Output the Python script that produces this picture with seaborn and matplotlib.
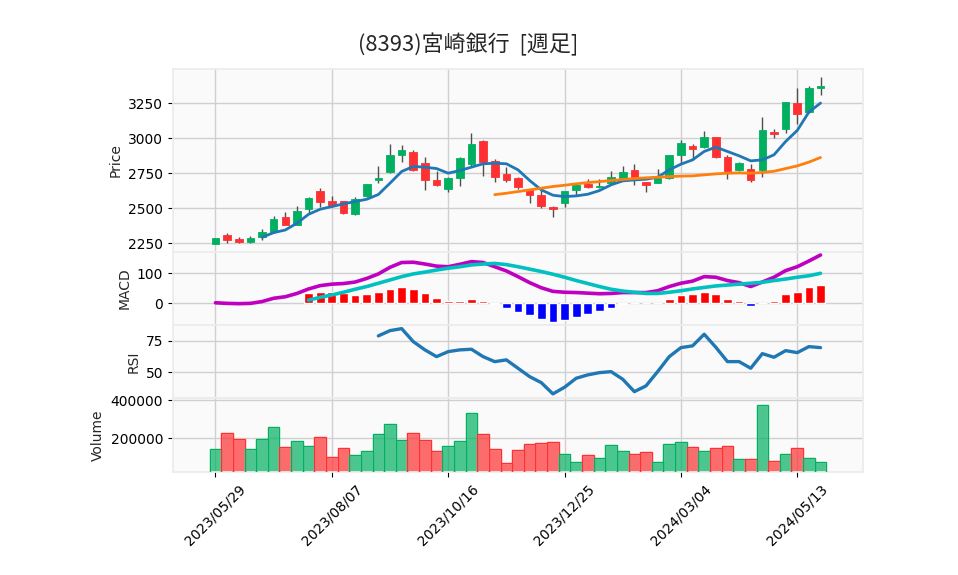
import numpy as np
import pandas as pd
import seaborn as sns
import matplotlib
matplotlib.use('Agg')
import matplotlib.pyplot as plt
from matplotlib.ticker import FixedLocator, FuncFormatter

# weekly OHLC (53 weeks, 2023/05/29 .. 2024/05/27)
opens = [2248, 2307, 2281, 2262, 2293, 2333, 2436, 2383, 2498, 2624,
         2552, 2552, 2459, 2590, 2698, 2755, 2883, 2902, 2821, 2702,
         2640, 2719, 2817, 2983, 2840, 2743, 2717, 2638, 2595, 2512,
         2540, 2631, 2676, 2648, 2683, 2714, 2771, 2688, 2683, 2714,
         2883, 2945, 2936, 3007, 2864, 2774, 2779, 2774, 3045, 3067,
         3250, 3183, 3355]
highs = [2290, 2321, 2298, 2300, 2350, 2445, 2471, 2517, 2579, 2643,
         2586, 2555, 2583, 2674, 2798, 2957, 2948, 2917, 2869, 2769,
         2720, 2862, 3036, 2990, 2850, 2793, 2720, 2640, 2643, 2519,
         2626, 2670, 2707, 2712, 2764, 2798, 2812, 2690, 2779, 2881,
         2988, 2957, 3050, 3010, 2881, 2833, 2817, 3148, 3064, 3260,
         3357, 3374, 3436]
lows = [2245, 2252, 2255, 2255, 2274, 2321, 2381, 2381, 2462, 2512,
        2512, 2460, 2455, 2583, 2683, 2750, 2829, 2767, 2631, 2660,
        2614, 2660, 2793, 2731, 2686, 2690, 2638, 2536, 2500, 2436,
        2512, 2595, 2645, 2645, 2679, 2705, 2667, 2614, 2679, 2710,
        2817, 2845, 2933, 2860, 2710, 2767, 2690, 2721, 3000, 3036,
        3102, 3178, 3310]
closes = [2285, 2276, 2262, 2288, 2329, 2424, 2383, 2481, 2574, 2548,
          2526, 2467, 2564, 2674, 2719, 2879, 2917, 2776, 2700, 2667,
          2717, 2860, 2960, 2833, 2721, 2698, 2648, 2593, 2519, 2498,
          2624, 2667, 2648, 2660, 2721, 2757, 2710, 2669, 2719, 2879,
          2964, 2926, 3007, 2869, 2769, 2821, 2698, 3057, 3026, 3257,
          3169, 3357, 3374]
volumes = [143900, 226300, 196500, 143900, 196500, 259600, 154400, 186000, 159700, 207000,
           101800, 149100, 112300, 133300, 222800, 275400, 191200, 226300, 191200, 133300,
           159700, 186000, 333300, 222800, 143900, 70200, 138600, 170200, 175400, 180700,
           117600, 75500, 112300, 96500, 164900, 133300, 117600, 128100, 75500, 170200,
           180700, 154400, 133300, 149100, 159700, 91200, 91200, 375400, 80700, 117600,
           149100, 96500, 75500]

# moving averages (5w from week 4, 25w from week 24)
sma5 = [np.nan] * 4 + [2293, 2326, 2345, 2393, 2457, 2493, 2512, 2531, 2548, 2564,
                       2598, 2679, 2762, 2798, 2793, 2783, 2750, 2769, 2793, 2817,
                       2821, 2817, 2774, 2698, 2631, 2593, 2583, 2588, 2600, 2626,
                       2667, 2695, 2702, 2707, 2721, 2774, 2814, 2845, 2905, 2936,
                       2905, 2874, 2838, 2845, 2881, 2976, 3055, 3186, 3250]
sma25 = [np.nan] * 24 + [2597, 2607, 2619, 2631, 2643, 2655, 2664, 2674, 2683, 2690,
                         2698, 2705, 2712, 2717, 2721, 2726, 2729, 2731, 2738, 2745,
                         2750, 2752, 2750, 2755, 2764, 2783, 2802, 2829, 2862]

macd = [2, 0, -1, 0, 6, 17, 22, 33, 48, 59,
        64, 66, 71, 83, 98, 120, 136, 137, 131, 124,
        122, 130, 139, 136, 122, 108, 89, 69, 52, 40,
        37, 36, 34, 32, 33, 36, 36, 36, 42, 56,
        67, 74, 89, 87, 76, 69, 56, 71, 87, 109,
        122, 141, 161]
signal = [np.nan] * 8 + [11, 20, 28, 37, 47, 56, 67, 78, 89, 98,
                         104, 111, 117, 122, 128, 131, 133, 129, 122, 114,
                         106, 97, 87, 76, 66, 56, 47, 41, 37, 33,
                         33, 37, 42, 48, 53, 58, 61, 64, 67, 70,
                         76, 81, 87, 92, 100]
hist = [np.nan] * 8 + [36, 38, 38, 36, 29, 32, 39, 48, 54, 48,
                       36, 18, 8, 8, 14, 8, -3, -14, -28, -38,
                       -51, -61, -54, -44, -34, -26, -14, -2, 0, 0,
                       0, 14, 28, 32, 38, 32, 14, 8, -8, 1,
                       8, 32, 38, 54, 62]
rsi = [np.nan] * 14 + [79.1, 83.3, 84.9, 74.5, 67.9, 62.5, 66.5, 67.9, 68.4, 62.5,
                       58.5, 59.9, 53.2, 46.5, 41.7, 32.7, 38.0, 45.2, 47.9, 49.7,
                       50.5, 44.4, 34.5, 39.1, 50.5, 62.5, 69.7, 71.1, 80.4, 70.0,
                       58.5, 58.5, 53.2, 64.9, 62.0, 67.3, 65.7, 70.5, 69.7]

tick_pos = [0, 10, 20, 30, 40, 50]
tick_labels = ['2023/05/29', '2023/08/07', '2023/10/16', '2023/12/25', '2024/03/04', '2024/05/13']
title = '(8393)宮崎銀行  [週足]'

df = pd.DataFrame({'x': np.arange(len(closes)), 'open': opens, 'high': highs, 'low': lows,
                   'close': closes, 'volume': volumes, 'sma5': sma5, 'sma25': sma25,
                   'macd': macd, 'signal': signal, 'hist': hist, 'rsi': rsi})

sns.set_theme(style='whitegrid', rc={
    'axes.facecolor': '#fafafa',
    'axes.edgecolor': '#ececec',
    'axes.labelsize': 10,
    'grid.color': '#d0d0d0',
    'grid.linewidth': 1.0,
    'xtick.bottom': True,
    'ytick.left': True,
    'xtick.color': 'black',
    'ytick.color': 'black',
    'xtick.major.size': 3.5,
    'ytick.major.size': 3.5,
    'xtick.major.width': 0.8,
    'ytick.major.width': 0.8,
})
plt.rcParams['font.family'] = ['DejaVu Sans', 'Noto Sans CJK JP']
plt.rcParams['font.size'] = 10

up_c, dn_c = '#00b060', '#fe3032'
is_up = df['close'] >= df['open']

fig = plt.figure(figsize=(9.58, 5.75), dpi=100)
L, W = 173 / 958, 690 / 958
ax_p = fig.add_axes([L, 1 - 252 / 575, W, 183 / 575])
ax_m = fig.add_axes([L, 1 - 325 / 575, W, 73 / 575], sharex=ax_p)
ax_r = fig.add_axes([L, 1 - 398 / 575, W, 73 / 575], sharex=ax_p)
ax_v = fig.add_axes([L, 1 - 472 / 575, W, 74 / 575], sharex=ax_p)

# candles
ax_p.vlines(df['x'], df['low'], df['high'], color='#505050', linewidth=1.0, zorder=2)
body_lo = np.minimum(df['open'], df['close'])
body_h = np.abs(df['close'] - df['open'])
ax_p.bar(df['x'], body_h, bottom=body_lo, width=0.65,
         color=np.where(is_up, up_c, dn_c), edgecolor=np.where(is_up, up_c, dn_c),
         linewidth=0.6, zorder=3)
sns.lineplot(data=df, x='x', y='sma5', ax=ax_p, color='#1f77b4', linewidth=2.0, zorder=4)
sns.lineplot(data=df, x='x', y='sma25', ax=ax_p, color='#ff7f0e', linewidth=2.0, zorder=4)
ax_p.set_ylim(2188, 3493)
ax_p.yaxis.set_major_locator(FixedLocator([2250, 2500, 2750, 3000, 3250]))
ax_p.set_ylabel('Price')

# MACD
h = df['hist']
ax_m.bar(df['x'], h, width=0.75, color=np.where(h >= 0, 'red', 'blue'), zorder=2)
sns.lineplot(data=df, x='x', y='macd', ax=ax_m, color='#c000c0', linewidth=2.6, zorder=3)
sns.lineplot(data=df, x='x', y='signal', ax=ax_m, color='#00c0c0', linewidth=2.6, zorder=3)
ax_m.set_ylim(-72, 171)
ax_m.yaxis.set_major_locator(FixedLocator([0, 100]))
ax_m.set_ylabel('MACD')

# RSI
sns.lineplot(data=df, x='x', y='rsi', ax=ax_r, color='#1f77b4', linewidth=2.4)
ax_r.set_ylim(29.4, 87.8)
ax_r.yaxis.set_major_locator(FixedLocator([50, 75]))
ax_r.set_ylabel('RSI')

# volume
vol_col = np.where(is_up, up_c, dn_c)
ax_v.bar(df['x'], df['volume'], width=1.0, color=vol_col, alpha=0.7, zorder=2)
ax_v.bar(df['x'], df['volume'], width=1.0, fill=False, edgecolor=vol_col, linewidth=1.0, zorder=3)
ax_v.set_ylim(0.3 * min(volumes), 1.1 * max(volumes))
ax_v.yaxis.set_major_locator(FixedLocator([200000, 400000]))
ax_v.yaxis.set_major_formatter(FuncFormatter(lambda v, p: f'{int(v)}'))
ax_v.set_ylabel('Volume')

for ax in (ax_p, ax_m, ax_r, ax_v):
    ax.set_xlabel('')
    ax.grid(True, which='major')
    for s in ax.spines.values():
        s.set_color('#ececec')
    ax.tick_params(axis='both', labelsize=10)

ax_p.set_xlim(-3.65, 55.65)
ax_v.xaxis.set_major_locator(FixedLocator(tick_pos))
ax_v.set_xticklabels(tick_labels, rotation=45, ha='center')
for ax in (ax_p, ax_m, ax_r):
    ax.tick_params(axis='x', labelbottom=False, bottom=False)

fig.text(468 / 958, 1 - 45 / 575, title, ha='center', va='center', fontsize=15.8,
         family=['Noto Sans CJK JP', 'DejaVu Sans'])

fig.savefig('out.png', dpi=100)
